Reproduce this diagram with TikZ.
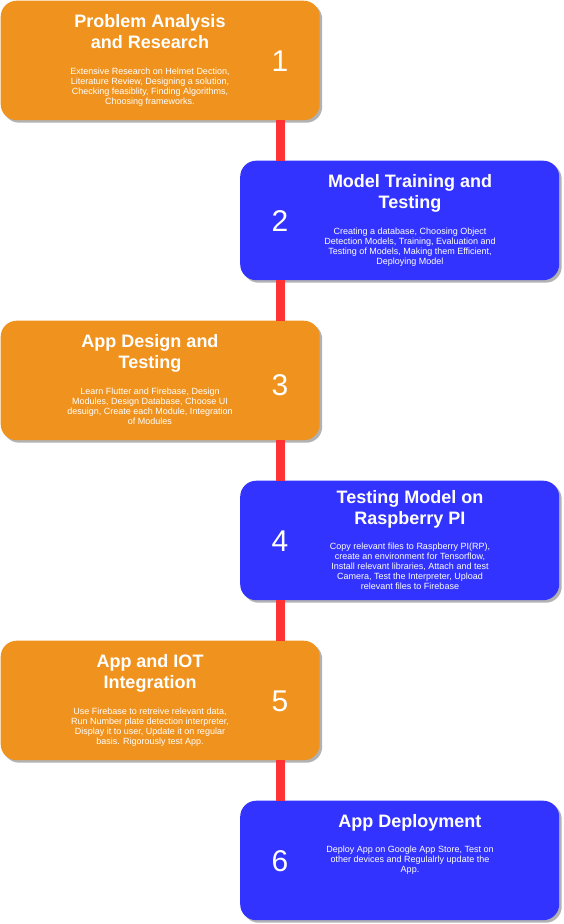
\documentclass[tikz,border=0pt]{standalone}
\usepackage{fontspec}
\setmainfont{Liberation Sans}
\usetikzlibrary{shadows}
\definecolor{stageorange}{HTML}{F0931E}
\definecolor{stageblue}{HTML}{3333FF}
\definecolor{linkred}{HTML}{FF3333}
\begin{document}
\begin{tikzpicture}[x=1pt,y=-1pt,
  stage/.style={rounded corners=16pt, minimum width=319pt, minimum height=119.5pt,
    inner sep=0pt, anchor=north west,
    drop shadow={shadow xshift=2.5pt, shadow yshift=-2.5pt, opacity=0.3, fill=black}},
  leftstage/.style={stage, fill=stageorange},
  rightstage/.style={stage, fill=stageblue},
  % multi-line text is anchored at the baseline of its last line
  heading/.style={text=white, font=\fontsize{18}{21}\selectfont\bfseries,
    align=center, anchor=base, inner sep=0pt},
  detail/.style={text=white, font=\fontsize{9}{10}\selectfont,
    align=center, anchor=base, inner sep=0pt},
  stepnum/.style={text=white, font=\fontsize{30}{36}\selectfont,
    anchor=base, inner sep=0pt},
  link/.style={draw=linkred, line width=9pt}
]
\useasboundingbox (0,0) rectangle (563,924);

% stage boxes, alternating left and right
\node[leftstage]  (s1) at (0.5,0.5)   {};
\node[rightstage] (s2) at (240,160.5) {};
\node[leftstage]  (s3) at (0.5,320.5) {};
\node[rightstage] (s4) at (240,480.5) {};
\node[leftstage]  (s5) at (0.5,640.5) {};
\node[rightstage] (s6) at (240,800.5) {};

% step numbers
\node[stepnum] (n1) at (280,71)  {1};
\node[stepnum] (n2) at (280,231) {2};
\node[stepnum] (n3) at (280,395) {3};
\node[stepnum] (n4) at (280,551) {4};
\node[stepnum] (n5) at (280,711) {5};
\node[stepnum] (n6) at (280,871) {6};

% connectors between consecutive stages
\draw[link] (n1 |- s1.south) -- (n2 |- s2.north);
\draw[link] (n2 |- s2.south) -- (n3 |- s3.north);
\draw[link] (n3 |- s3.south) -- (n4 |- s4.north);
\draw[link] (n4 |- s4.south) -- (n5 |- s5.north);
\draw[link] (n5 |- s5.south) -- (n6 |- s6.north);

% stage 1
\node[heading] (t1) at (150,48.5) {Problem Analysis\\and Research};
\node[detail]  (d1) at (150,104) {Extensive Research on Helmet Dection,\\Literature Review, Designing a solution,\\Checking feasiblity, Finding Algorithms,\\Choosing frameworks.};

% stage 2
\node[heading] (t2) at (410,208.5) {Model Training and\\Testing};
\node[detail]  (d2) at (410,264) {Creating a database, Choosing Object\\Detection Models, Training, Evaluation and\\Testing of Models, Making them Efficient,\\Deploying Model};

% stage 3
\node[heading] (t3) at (150,368.5) {App Design and\\Testing};
\node[detail]  (d3) at (150,424) {Learn Flutter and Firebase, Design\\Modules, Design Database, Choose UI\\desuign, Create each Module, Integration\\of Modules};

% stage 4
\node[heading] (t4) at (410,524.5) {Testing Model on\\Raspberry PI};
\node[detail]  (d4) at (410,589) {Copy relevant files to Raspberry PI(RP),\\create an environment for Tensorflow,\\Install relevant libraries, Attach and test\\Camera, Test the Interpreter, Upload\\relevant files to Firebase};

% stage 5
\node[heading] (t5) at (150,688.5) {App and IOT\\Integration};
\node[detail]  (d5) at (150,744) {Use Firebase to retreive relevant data,\\Run Number plate detection interpreter,\\Display it to user, Update it on regular\\basis. Rigorously test App.};

% stage 6
\node[heading] (t6) at (410,827.5) {App Deployment};
\node[detail]  (d6) at (410,872.5) {Deploy App on Google App Store, Test on\\other devices and Regulalrly update the\\App.};
\end{tikzpicture}
\end{document}
